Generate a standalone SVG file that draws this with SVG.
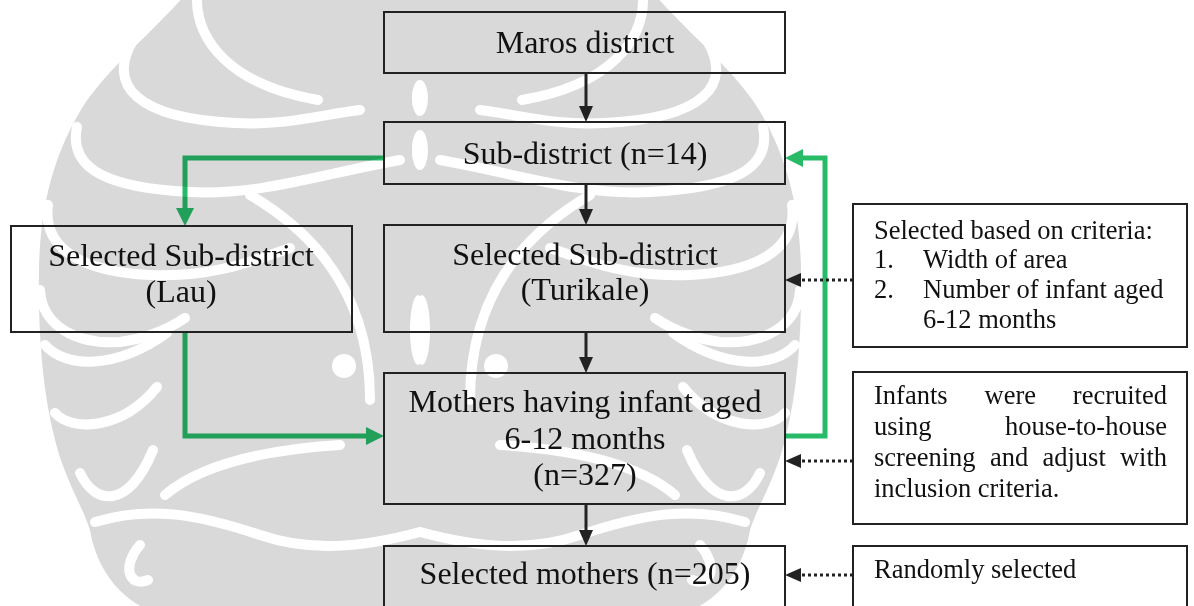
<svg xmlns="http://www.w3.org/2000/svg" xmlns:xlink="http://www.w3.org/1999/xlink" width="1194" height="606" viewBox="0 0 1194 606">
<style>
.box{fill:none;stroke:#222;stroke-width:2}
.t{font-family:"Liberation Serif","Times New Roman",serif;fill:#111}
.m{font-size:32px;text-anchor:middle}
.s{font-size:26.5px}
.e{text-anchor:end}
.blk{fill:none;stroke:#222;stroke-width:3}
.dot{fill:none;stroke:#222;stroke-width:3;stroke-dasharray:3 3}
.grn{fill:none;stroke:#27bb68;stroke-width:5;stroke-linejoin:miter}
.wl{fill:none;stroke:#fff;stroke-width:10;stroke-linecap:round}
.wf{fill:#fff}
</style>
<defs>
<marker id="ab" markerUnits="userSpaceOnUse" markerWidth="16" markerHeight="14" refX="8" refY="7" orient="auto"><path d="M0,0 L16,7 L0,14 Z" fill="#222"/></marker>
<marker id="ag" markerUnits="userSpaceOnUse" markerWidth="18" markerHeight="18" refX="9" refY="9" orient="auto"><path d="M0,0 L18,9 L0,18 Z" fill="#27bb68"/></marker>
<g id="half">
<path d="M420,-5 L185,-5 C150,35 100,75 78,115 C52,160 40,210 39,270 C38,330 42,390 55,440 C65,480 82,505 90,530 C96,565 115,595 150,611 L420,611 Z" fill="#d9d9d9"/>
<path class="wl" d="M197,-5 C195,40 230,85 318,100"/>
<path class="wl" d="M132,42 C108,85 135,118 235,123 C285,126 325,114 360,110"/>
<path class="wl" d="M77,127 C68,170 110,188 190,192 C260,196 330,172 400,160"/>
<path class="wl" d="M48,205 C42,250 85,272 150,275 C210,278 250,262 290,248"/>
<path class="wl" d="M40,290 C42,325 75,345 120,342 C150,338 170,328 185,318"/>
<path class="wl" d="M45,345 C65,368 115,370 167,333"/>
<path class="wl" d="M55,413 C72,432 122,430 157,387"/>
<path class="wl" d="M80,473 C95,505 128,510 153,450"/>
<path class="wl" d="M95,522 C150,505 200,515 260,535 C310,552 360,548 420,532"/>
<path class="wl" d="M165,495 C200,465 260,450 340,445"/>
<path class="wl" d="M140,545 C122,565 128,588 148,580"/>
<path class="wl" d="M250,195 C310,230 370,290 370,400"/>
<ellipse class="wf" cx="420" cy="98" rx="8" ry="18"/>
<ellipse class="wf" cx="420" cy="150" rx="8" ry="20"/>
<ellipse class="wf" cx="418" cy="330" rx="8" ry="35"/>
<circle class="wf" cx="344" cy="366" r="12"/>
</g>
</defs>
<rect width="1194" height="606" fill="#fff"/>
<g id="watermark">
<use xlink:href="#half"/>
<use xlink:href="#half" transform="translate(840,0) scale(-1,1)"/>
</g>
<g id="connectors">
<line class="blk" x1="586" y1="73" x2="586" y2="114" marker-end="url(#ab)"/>
<line class="blk" x1="586" y1="184" x2="586" y2="217" marker-end="url(#ab)"/>
<line class="blk" x1="586" y1="332" x2="586" y2="365" marker-end="url(#ab)"/>
<line class="blk" x1="586" y1="504" x2="586" y2="538" marker-end="url(#ab)"/>
<line class="dot" x1="853" y1="280" x2="793" y2="280" marker-end="url(#ab)"/>
<line class="dot" x1="853" y1="461" x2="793" y2="461" marker-end="url(#ab)"/>
<line class="dot" x1="853" y1="575" x2="793" y2="575" marker-end="url(#ab)"/>
<g style="mix-blend-mode:multiply">
<path class="grn" d="M384,158 H185 V217" marker-end="url(#ag)"/>
<path class="grn" d="M185,332 V436 H375" marker-end="url(#ag)"/>
<path class="grn" d="M785,436 H825 V158 H794" marker-end="url(#ag)"/>
</g>
</g>
<g id="n-maros"><rect class="box" x="384" y="12" width="401" height="61"/><text class="t m" x="585" y="53">Maros district</text></g>
<g id="n-sub"><rect class="box" x="384" y="122" width="401" height="62"/><text class="t m" x="585" y="164">Sub-district (n=14)</text></g>
<g id="n-turikale"><rect class="box" x="384" y="225" width="401" height="107"/><text class="t m" x="585" y="265">Selected Sub-district</text><text class="t m" x="585" y="300">(Turikale)</text></g>
<g id="n-lau"><rect class="box" x="11" y="226" width="341" height="106"/><text class="t m" x="181" y="266">Selected Sub-district</text><text class="t m" x="181" y="302">(Lau)</text></g>
<g id="n-mothers"><rect class="box" x="384" y="373" width="401" height="131"/><text class="t m" x="585" y="412">Mothers having infant aged</text><text class="t m" x="585" y="449">6-12 months</text><text class="t m" x="585" y="485">(n=327)</text></g>
<g id="n-selected"><rect class="box" x="384" y="546" width="401" height="75"/><text class="t m" x="585" y="584">Selected mothers (n=205)</text></g>
<g id="n-criteria"><rect class="box" x="853" y="204" width="334" height="143"/>
<text class="t s" x="874" y="239">Selected based on criteria:</text>
<text class="t s" x="874" y="268">1.</text><text class="t s" x="923" y="268">Width of area</text>
<text class="t s" x="874" y="298">2.</text><text class="t s" x="923" y="298">Number of infant aged</text>
<text class="t s" x="923" y="328">6-12 months</text></g>
<g id="n-infants"><rect class="box" x="853" y="372" width="334" height="152"/>
<text class="t s" x="874" y="404">Infants</text><text class="t s" x="984.5" y="404">were</text><text class="t s e" x="1167" y="404">recruited</text>
<text class="t s" x="874" y="435">using</text><text class="t s e" x="1167" y="435">house-to-house</text>
<text class="t s" x="874" y="466">screening</text><text class="t s" x="990" y="466">and</text><text class="t s" x="1042.5" y="466">adjust</text><text class="t s e" x="1167" y="466">with</text>
<text class="t s" x="874" y="497">inclusion criteria.</text></g>
<g id="n-random"><rect class="box" x="853" y="546" width="334" height="75"/><text class="t s" x="874" y="578">Randomly selected</text></g>
</svg>
